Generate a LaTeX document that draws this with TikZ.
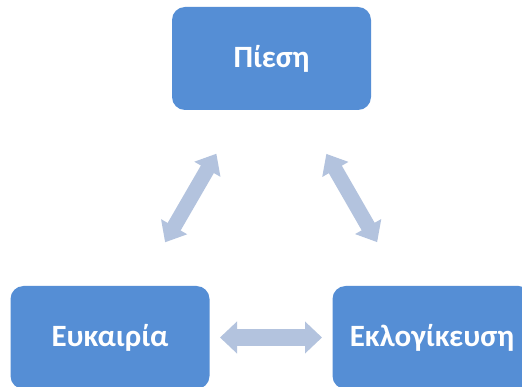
\documentclass[tikz,border=0pt]{standalone}
\usepackage{fontspec}
\setmainfont{Carlito}
\usetikzlibrary{arrows.meta}
\definecolor{boxblue}{RGB}{85,142,213}
\definecolor{arrowblue}{RGB}{179,195,222}
\begin{document}
\begin{tikzpicture}[x=1pt,y=-1pt,
  box/.style={fill=boxblue, draw=none, rounded corners=13pt, minimum width=199pt, minimum height=103pt, text=white, font=\bfseries\fontsize{31}{36}\selectfont, inner sep=0pt},
  diagarrow/.style={draw=arrowblue, line width=15pt, {Triangle[length=18pt,width=29pt]}-{Triangle[length=18pt,width=29pt]}, shorten <=110pt, shorten >=110pt},
  horarrow/.style={draw=arrowblue, line width=17pt, {Triangle[length=17pt,width=31pt]}-{Triangle[length=17pt,width=31pt]}, shorten <=110pt, shorten >=110pt}]
\useasboundingbox (0,0) rectangle (522,387);
\fill[white] (0,0) rectangle (522,387);
\node[box] (piesi) at (271.5,58.5) {Πίεση};
\node[box] (eukairia) at (110,337.5) {Ευκαιρία};
\node[box] (eklog) at (432,337.5) {Εκλογίκευση};
\draw[diagarrow] (eukairia.center) -- (piesi.center);
\draw[diagarrow] (eklog.center) -- (piesi.center);
\draw[horarrow] (eukairia.center) -- (eklog.center);
\end{tikzpicture}
\end{document}
